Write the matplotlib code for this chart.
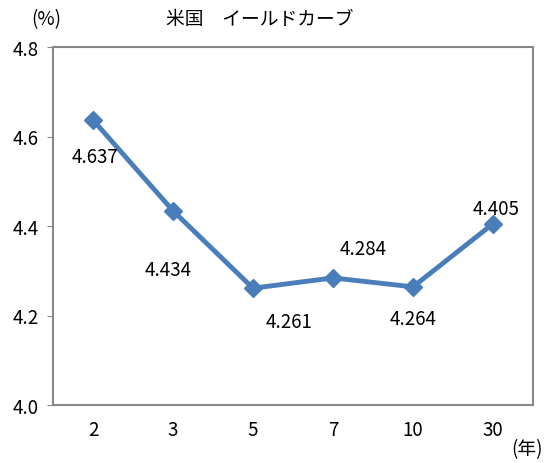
import matplotlib
matplotlib.use("Agg")
import matplotlib.pyplot as plt

plt.rcParams['font.family'] = ['Noto Sans CJK JP', 'DejaVu Sans']

# data
maturities = ['2', '3', '5', '7', '10', '30']
yields = [4.637, 4.434, 4.261, 4.284, 4.264, 4.405]
# label offsets in points (dx, dy)
label_offsets = [(1.5, -26.5), (-3.5, -42), (26, -24), (21.5, 21), (0, -23), (2, 11)]

fig = plt.figure(figsize=(5.48, 4.64), dpi=100)
ax = fig.add_axes([53 / 548, 58 / 464, 480 / 548, 358 / 464])

x = list(range(len(maturities)))
ax.plot(x, yields, color='#4A7EBB', linewidth=3.5, marker='D', markersize=9,
        markerfacecolor='#4A7EBB', markeredgecolor='#4A7EBB')

for xi, yi, (dx, dy) in zip(x, yields, label_offsets):
    ax.annotate(f'{yi:.3f}', (xi, yi), xytext=(dx, dy), textcoords='offset points',
                ha='center', va='center', fontsize=13.5)

ax.set_xlim(-0.5, len(maturities) - 0.5)
ax.set_ylim(4.0, 4.8)
ax.set_yticks([4.0, 4.2, 4.4, 4.6, 4.8])
ax.set_yticklabels(['4.0', '4.2', '4.4', '4.6', '4.8'])
ax.set_xticks(x)
ax.set_xticklabels(maturities)
ax.tick_params(axis='y', length=4, color='#878787', labelsize=13.5, pad=6)
ax.tick_params(axis='x', length=0, labelsize=13.5, pad=10)
for s in ax.spines.values():
    s.set_color('#878787')
    s.set_linewidth(1.5)

fig.text(260 / 548, 1 - 20 / 464, '米国　イールドカーブ', ha='center', va='center', fontsize=13.5)
fig.text(46 / 548, 1 - 20 / 464, '(%)', ha='center', va='center', fontsize=13.5)
fig.text(527 / 548, 1 - 450 / 464, '(年)', ha='center', va='center', fontsize=13.5)

fig.savefig('out.png', dpi=100)
